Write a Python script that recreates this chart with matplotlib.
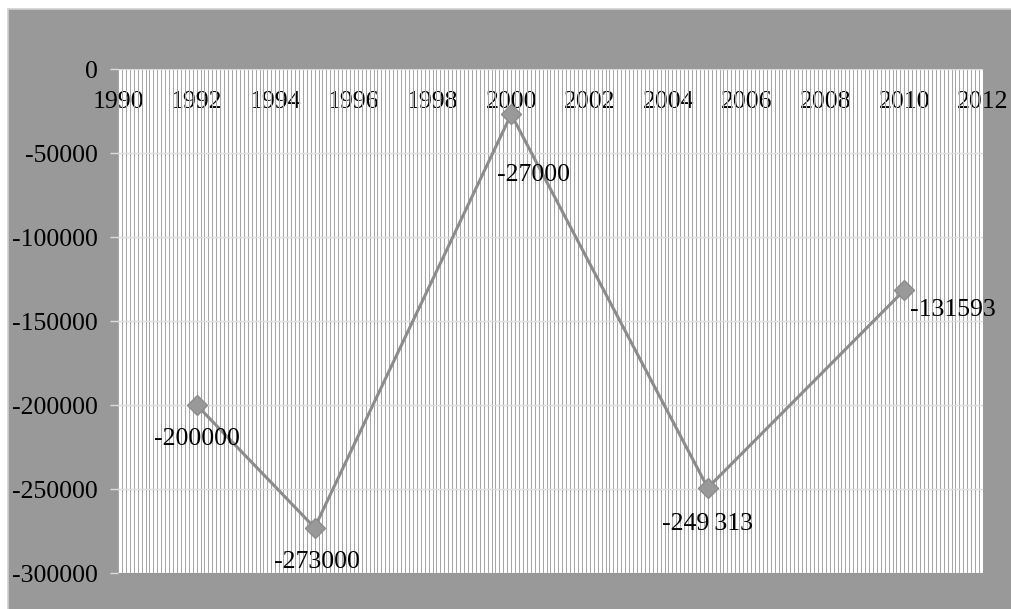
import numpy as np
import matplotlib
matplotlib.use('Agg')
import matplotlib.pyplot as plt
import matplotlib.transforms as mtrans
from matplotlib.patches import Rectangle

# data
years = [1992, 1995, 2000, 2005, 2010]
values = [-200000, -273000, -27000, -249313, -131593]
labels = ['-200000', '-273000', '-27000', '-249\u2009313', '-131593']
# label offsets in pixels (dx, dy) relative to each marker
offsets = [(0, -34), (2, -34), (22, -61), (0, -36), (49, -20)]

x_ticks = list(range(1990, 2013, 2))
y_ticks = list(range(-300000, 1, 50000))

plt.rcParams['font.family'] = ['Liberation Serif', 'DejaVu Serif']
FS = 18.5

W, H = 1011, 609
fig = plt.figure(figsize=(W / 100, H / 100), dpi=100)
fig.patch.set_facecolor('white')

# gray chart area
bg = Rectangle((8 / W, -0.02), 1.2, (H - 9) / H + 0.02, transform=fig.transFigure,
               facecolor='#999999', edgecolor='#d0d0d0', linewidth=1.2, zorder=-10)
fig.patches.append(bg)

ax = fig.add_axes([118 / W, (H - 573) / H, (983 - 118) / W, (573 - 69) / H])
ax.set_facecolor('white')
ax.set_zorder(1)

ax.set_xlim(1990, 2012)
ax.set_ylim(-300000, 0)

# dense vertical gridlines
ax.set_xticks(np.arange(1990, 2012.01, 0.1), minor=True)
ax.grid(which='minor', axis='x', color='#a6a6a6', linewidth=0.75)
ax.grid(which='major', axis='x', color='#a6a6a6', linewidth=0.75)
ax.grid(which='major', axis='y', color='#dcdcdc', linewidth=1.0)
ax.set_axisbelow(True)

for s in ax.spines.values():
    s.set_visible(False)

ax.set_xticks(x_ticks)
ax.set_xticklabels([str(t) for t in x_ticks])
ax.xaxis.set_ticks_position('top')
ax.tick_params(axis='x', which='both', length=0, labelsize=FS, labeltop=True,
               labelbottom=False, pad=0)
# place x labels below the zero line
shift = mtrans.ScaledTranslation(0, -22 / 100, fig.dpi_scale_trans)
for lbl in ax.get_xticklabels():
    lbl.set_verticalalignment('top')
    lbl.set_transform(lbl.get_transform() + shift)

ax.set_yticks(y_ticks)
ax.set_yticklabels([str(t) for t in y_ticks])
ax.tick_params(axis='y', length=6, width=1, color='#dcdcdc', labelsize=FS, pad=8.5)

ax.plot(years, values, color='#8c8c8c', linewidth=2.2, marker='D', markersize=10,
        markerfacecolor='#999999', markeredgecolor='#8c8c8c', zorder=3)

for x, y, t, (dx, dy) in zip(years, values, labels, offsets):
    ax.annotate(t, (x, y), xytext=(dx * 0.72, dy * 0.72), textcoords='offset points',
                ha='center', va='center', fontsize=FS, color='black', zorder=4)

fig.savefig('out.png', dpi=100)
